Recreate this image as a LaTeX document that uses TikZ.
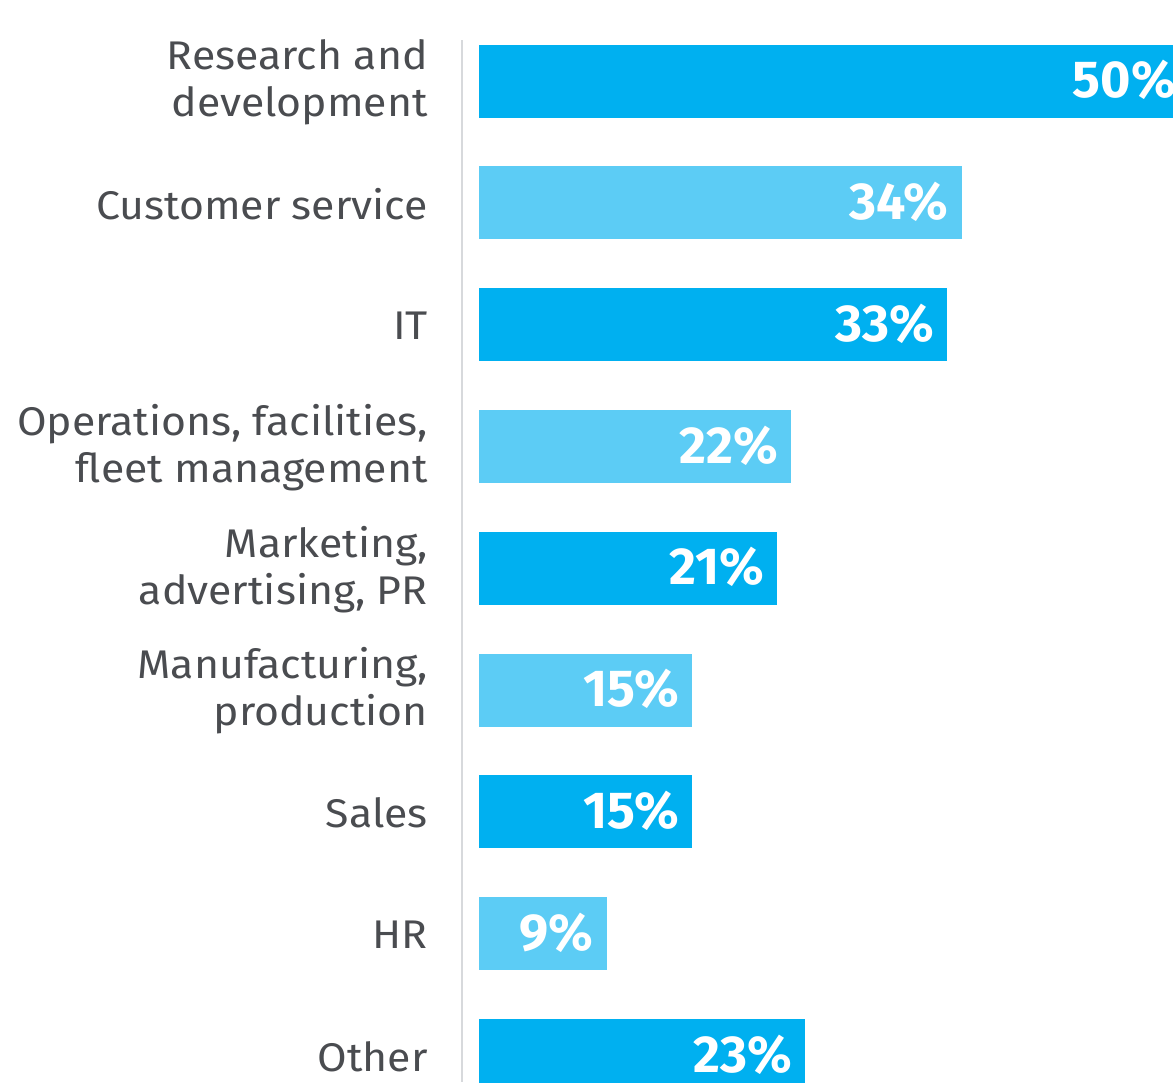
\documentclass[tikz,border=0pt]{standalone}
\usepackage{fontspec}
\setmainfont{Fira Sans}
\newfontfamily\labelfont[FakeStretch=1.07]{Fira Sans}
\definecolor{bardark}{RGB}{0,176,240}
\definecolor{barlight}{RGB}{92,204,245}
\definecolor{labelgray}{RGB}{74,76,80}
\definecolor{axisgray}{RGB}{215,217,220}
\begin{document}
\begin{tikzpicture}[x=1pt,y=-1pt,
  bar/.style={anchor=west,inner sep=0pt,minimum height=73pt},
  catlabel/.style={anchor=east,inner sep=0pt,align=right,text=labelgray,
    font=\labelfont\fontsize{40}{47}\selectfont},
  pctlabel/.style={anchor=east,inner sep=0pt,text=white,
    font=\fontsize{52}{60}\selectfont\bfseries}]
\useasboundingbox (0,0) rectangle (1173,1082);
\clip (0,0) rectangle (1173,1082);
\coordinate (axtop) at (461.5,40);
\coordinate (axbot) at (461.5,1082);
\draw[axisgray,line width=2pt] (axtop) -- (axbot);
\foreach \i/\v/\c/\lab in {
  0/50/bardark/{Research and\\development},
  1/34/barlight/{Customer service},
  2/33/bardark/{IT},
  3/22/barlight/{Operations, facilities,\\fleet management},
  4/21/bardark/{Marketing,\\advertising, PR},
  5/15/barlight/{Manufacturing,\\production},
  6/15/bardark/{Sales},
  7/9/barlight/{HR},
  8/23/bardark/{Other}}{
  \pgfmathsetmacro{\yc}{81+121.8*\i}
  \pgfmathsetmacro{\w}{14.2*\v}
  \node[bar,fill=\c,minimum width=\w pt] (bar\i) at (478.5,\yc) {};
  \node[pctlabel] (pct\i) at ([xshift=-13pt,yshift=1pt]bar\i.east) {\v\%};
  \node[catlabel] (cat\i) at (428,\yc+1) {\lab};
}
\end{tikzpicture}
\end{document}
